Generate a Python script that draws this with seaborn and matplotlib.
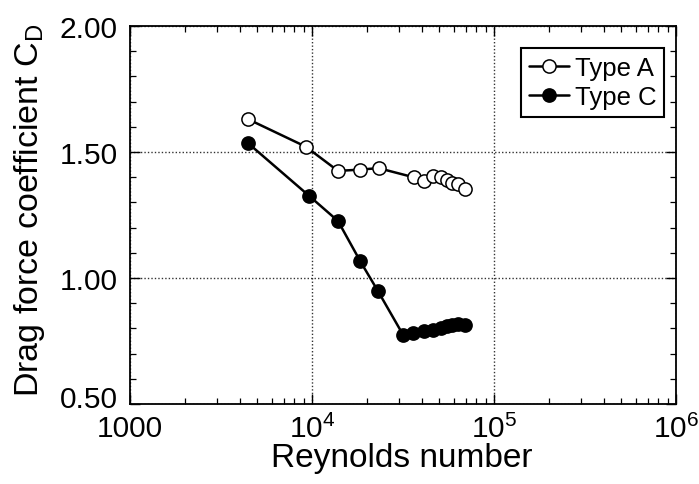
import numpy as np
import pandas as pd
import matplotlib
matplotlib.use("Agg")
import matplotlib.pyplot as plt
import matplotlib.transforms as mtransforms
import seaborn as sns
from matplotlib.ticker import LogLocator, FixedLocator, FixedFormatter, MultipleLocator, FormatStrFormatter

re_a = [4430, 9250, 13900, 18300, 23200, 36500, 41100, 46000, 50900, 54900, 58900, 63500, 69100]
cd_a = [1.631, 1.521, 1.425, 1.430, 1.436, 1.399, 1.383, 1.406, 1.402, 1.389, 1.378, 1.373, 1.355]
re_c = [4470, 9640, 13900, 18400, 23000, 31800, 36000, 41100, 46000, 50900, 54900, 58900, 63500, 69100]
cd_c = [1.534, 1.326, 1.226, 1.067, 0.949, 0.772, 0.782, 0.789, 0.795, 0.803, 0.811, 0.815, 0.817, 0.814]
series_names = ["Type A", "Type C"]
x_tick_values = [1e3, 1e4, 1e5, 1e6]
x_tick_labels = ["1000", "$10^4$", "$10^5$", "$10^6$"]
y_tick_values = [0.5, 1.0, 1.5, 2.0]

df_a = pd.DataFrame({"Re": re_a, "Cd": cd_a, "type": series_names[0]})
df_c = pd.DataFrame({"Re": re_c, "Cd": cd_c, "type": series_names[1]})

sns.set_theme(style="ticks")
plt.rcParams["font.family"] = ["Liberation Sans", "DejaVu Sans"]
plt.rcParams["mathtext.fontset"] = "custom"
plt.rcParams["mathtext.rm"] = "Liberation Sans"
plt.rcParams["mathtext.it"] = "Liberation Sans"
plt.rcParams["mathtext.default"] = "regular"
plt.rcParams["text.color"] = "black"
plt.rcParams["axes.labelcolor"] = "black"
plt.rcParams["legend.labelcolor"] = "black"

fig = plt.figure(figsize=(6.99, 4.85), dpi=100)
ax = fig.add_axes([130/699, 1-405/485, (676-130)/699, (405-27)/485])

sns.lineplot(data=df_a, x="Re", y="Cd", ax=ax, color="black", marker="o",
             markersize=9.5, markerfacecolor="white", markeredgecolor="black",
             markeredgewidth=1.1, linewidth=1.8, label=series_names[0], zorder=3)
sns.lineplot(data=df_c, x="Re", y="Cd", ax=ax, color="black", marker="o",
             markersize=9.5, markerfacecolor="black", markeredgecolor="black",
             markeredgewidth=1.1, linewidth=1.8, label=series_names[1], zorder=3)

ax.set_xscale("log")
ax.set_xlim(1e3, 1e6)
ax.set_ylim(0.5, 2.0)
ax.xaxis.set_major_locator(FixedLocator(x_tick_values))
ax.xaxis.set_major_formatter(FixedFormatter(x_tick_labels))
ax.xaxis.set_minor_locator(LogLocator(base=10, subs=np.arange(2, 10), numticks=20))
ax.yaxis.set_major_locator(FixedLocator(y_tick_values))
ax.yaxis.set_major_formatter(FormatStrFormatter("%.2f"))
ax.yaxis.set_minor_locator(MultipleLocator(0.1))

ax.tick_params(which="both", direction="in", top=True, right=True, labelsize=21.5,
               colors="black", labelcolor="black")
ax.tick_params(which="major", length=7, width=1.0)
ax.tick_params(axis="x", which="major", pad=7)
ax.tick_params(axis="y", which="major", pad=9)
ax.tick_params(which="minor", length=4, width=0.9)
for s in ax.spines.values():
    s.set_linewidth(1.3)
    s.set_color("black")

ax.grid(True, which="major", linestyle=(0, (1, 1.5)), color="black", linewidth=1.0, alpha=0.8)
ax.set_xlabel("Reynolds number", fontsize=24, color="black")
ax.set_ylabel("Drag force coefficient C$_\\mathrm{D}$", fontsize=24.5, color="black")
ax.xaxis.set_label_coords(0.498, -0.100)
ax.yaxis.set_label_coords(-0.152, 0.515)

# lift the bottom y tick label slightly, as in the reference
fig.canvas.draw()
ylabels = ax.get_yticklabels()
ylabels[0].set_transform(ylabels[0].get_transform() +
                         mtransforms.ScaledTranslation(0, 8/100, fig.dpi_scale_trans))

leg = ax.legend(loc="upper right", bbox_to_anchor=(0.993, 0.962), fontsize=18.5, frameon=True,
                fancybox=False, edgecolor="black", handlelength=1.55, handletextpad=0.25,
                borderpad=0.3, labelspacing=0.2, borderaxespad=0.3, labelcolor="black")
leg.get_frame().set_linewidth(1.5)
leg.get_frame().set_alpha(1)

fig.savefig("out.png", dpi=100)
